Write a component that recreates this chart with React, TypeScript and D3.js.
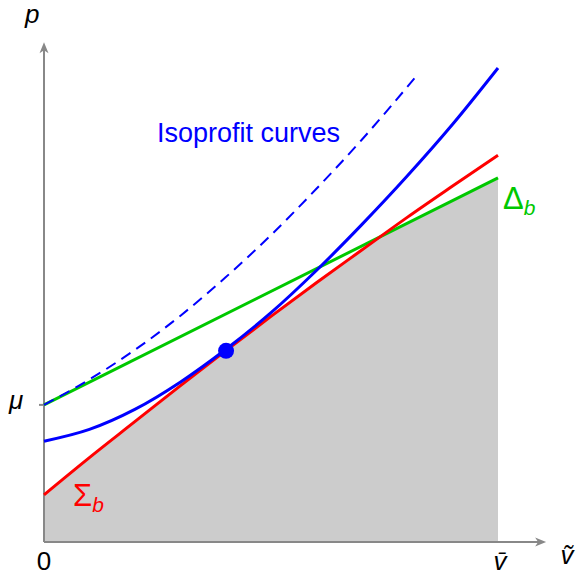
import React from "react";
import * as d3 from "d3";

// Valuation axis: 0 .. v̄ normalised to 0 .. 1; price in the same units.
const vGrid = [0, 0.1, 0.2, 0.3, 0.4, 0.5, 0.6, 0.7, 0.8, 0.9, 1.0];

// Σ_b boundary (red)
const sigmaP = [0.104, 0.186, 0.265, 0.344, 0.421, 0.497, 0.571, 0.643, 0.715, 0.784, 0.852];

// Isoprofit curve through the optimum (solid blue)
const isoP = [0.222, 0.248, 0.292, 0.352, 0.424, 0.505, 0.598, 0.699, 0.806, 0.92, 1.044];

// Higher isoprofit curve (dashed blue)
const isoHighV = [0, 0.1, 0.2, 0.3, 0.4, 0.5, 0.6, 0.7, 0.82];
const isoHighP = [0.302, 0.358, 0.423, 0.498, 0.583, 0.676, 0.778, 0.886, 1.026];

// Δ_b line (green), starting at μ
const deltaV = [0, 1];
const deltaP = [0.302, 0.802];

// Optimum where the isoprofit curve touches Σ_b
const optimum = { v: 0.401, p: 0.421 };
const mu = 0.302;

// Axis extents (arrow tips)
const vMax = 1.106;
const pMax = 1.101;

type Pt = [number, number];
const zip = (xs: number[], ys: number[]): Pt[] => xs.map((x, i) => [x, ys[i]]);

export default function App() {
  const W = 576;
  const H = 576;
  const x = d3.scaleLinear().domain([0, 1]).range([44, 498]);
  const y = d3.scaleLinear().domain([0, 1]).range([542, 88]);

  const line = d3
    .line<Pt>()
    .x((d) => x(d[0]))
    .y((d) => y(d[1]))
    .curve(d3.curveMonotoneX);

  const area = d3
    .area<Pt>()
    .x((d) => x(d[0]))
    .y0(y(0))
    .y1((d) => y(d[1]))
    .curve(d3.curveMonotoneX);

  const sigma = zip(vGrid, sigmaP);
  const iso = zip(vGrid, isoP);
  const isoHigh = zip(isoHighV, isoHighP);
  const delta = zip(deltaV, deltaP);

  const deltaArea = d3
    .area<Pt>()
    .x((d) => x(d[0]))
    .y0(y(0))
    .y1((d) => y(d[1]))(delta);

  const axisColor = "#888888";
  const font = "'Liberation Sans', Arial, sans-serif";
  const fs = 26;

  const x0 = x(0);
  const y0 = y(0);
  const xTip = x(vMax);
  const yTip = y(pMax);

  return (
    <svg
      width={W}
      height={H}
      style={{ position: "absolute", left: 0, top: 0, display: "block" }}
      fontFamily={font}
    >
      <defs>
        <clipPath id="below-delta">
          <path d={deltaArea ?? ""} />
        </clipPath>
      </defs>

      {/* feasible region: below both Σ_b and Δ_b */}
      <path d={area(sigma) ?? ""} fill="#cccccc" clipPath="url(#below-delta)" />

      {/* axes */}
      <line x1={x0} y1={y0} x2={xTip - 4} y2={y0} stroke={axisColor} strokeWidth={2} />
      <line x1={x0} y1={y0} x2={x0} y2={yTip + 4} stroke={axisColor} strokeWidth={2} />
      <path
        d={`M${xTip},${y0} L${xTip - 11},${y0 - 4.5} L${xTip - 8},${y0} L${xTip - 11},${y0 + 4.5} Z`}
        fill={axisColor}
      />
      <path
        d={`M${x0},${yTip} L${x0 - 4.5},${yTip + 11} L${x0},${yTip + 8} L${x0 + 4.5},${yTip + 11} Z`}
        fill={axisColor}
      />
      {/* μ tick */}
      <line x1={x0 - 5} y1={y(mu)} x2={x0} y2={y(mu)} stroke={axisColor} strokeWidth={2} />

      {/* curves */}
      <path d={line(delta) ?? ""} fill="none" stroke="#00c800" strokeWidth={3} />
      <path d={line(sigma) ?? ""} fill="none" stroke="#ff0000" strokeWidth={3} />
      <path
        d={line(isoHigh) ?? ""}
        fill="none"
        stroke="#0000ff"
        strokeWidth={2}
        strokeDasharray="11,7"
      />
      <path d={line(iso) ?? ""} fill="none" stroke="#0000ff" strokeWidth={3} />
      <circle cx={x(optimum.v)} cy={y(optimum.p)} r={8} fill="#0000ff" />

      {/* labels */}
      <text x={157} y={142} fontSize={27} fill="#0000ff">
        Isoprofit curves
      </text>
      <text x={503} y={209} fontSize={31} fill="#00c800">
        Δ<tspan fontSize={21} fontStyle="italic" dy={6}>b</tspan>
      </text>
      <text x={73} y={506} fontSize={31} fill="#ff0000">
        Σ<tspan fontSize={21} fontStyle="italic" dy={6}>b</tspan>
      </text>
      <text x={25} y={23} fontSize={fs} fontStyle="italic" fill="#000">
        p
      </text>
      <text x={9} y={409} fontSize={fs} fontStyle="italic" fill="#000">
        μ
      </text>
      <text x={x0} y={570} fontSize={fs} textAnchor="middle" fill="#000">
        0
      </text>
      <text x={500} y={570} fontSize={fs} fontStyle="italic" textAnchor="middle" fill="#000">
        v̄
      </text>
      <text x={567} y={564} fontSize={fs} fontStyle="italic" textAnchor="middle" fill="#000">
        ṽ
      </text>
    </svg>
  );
}
